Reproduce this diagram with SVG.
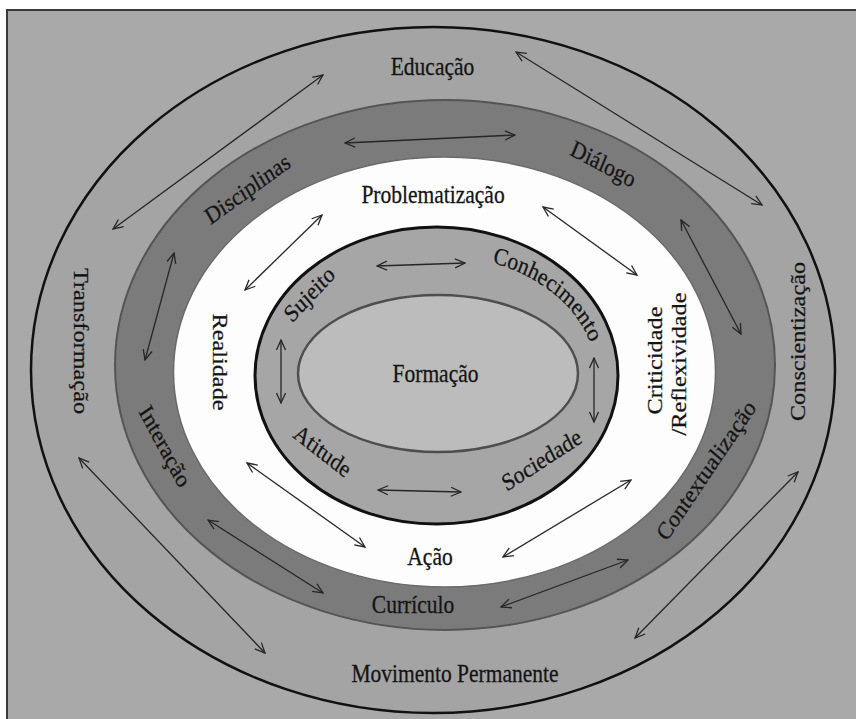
<svg xmlns="http://www.w3.org/2000/svg" width="856" height="719" viewBox="0 0 856 719">
  <style>
    text { font-family: 'Liberation Serif', 'Times New Roman', 'DejaVu Serif', serif; font-size: 21.5px; fill: #141414; stroke: #141414; stroke-width: 0.25; text-anchor: middle; }
    .arr { fill: none; stroke: #262626; stroke-width: 1.3; marker-start: url(#ah); marker-end: url(#ah); }
  </style>
  <defs>
    <marker id="ah" viewBox="0 0 12 12" refX="11" refY="6" markerWidth="12" markerHeight="12" markerUnits="userSpaceOnUse" orient="auto-start-reverse">
      <path d="M1,1.5 L11,6 L1,10.5" fill="none" stroke="#262626" stroke-width="1.3"/>
    </marker>
    <path id="pCon" d="M 463.8,270.4 A 160 106.2 0 0 1 596,375"/>
  </defs>

  <rect x="0" y="0" width="856" height="719" fill="#ffffff"/>
  <rect id="frame" x="7" y="10" width="860" height="720" fill="#a9a9a9" stroke="#3a3a3a" stroke-width="2"/>

  <g id="ring-outer">
    <ellipse cx="433" cy="370" rx="402" ry="343" fill="#a4a4a4" stroke="#111" stroke-width="2.5"/>
  </g>
  <g id="ring-dark">
    <ellipse cx="445" cy="365" rx="330" ry="265" fill="#7b7b7b" stroke="#555" stroke-width="2"/>
  </g>
  <g id="ring-white">
    <ellipse cx="444.5" cy="372" rx="271" ry="215" fill="#fdfdfd" stroke="#6a6a6a" stroke-width="1.5"/>
  </g>
  <g id="ring-inner">
    <ellipse cx="436.5" cy="375.5" rx="181.5" ry="148.5" fill="#a6a6a6" stroke="#111" stroke-width="3"/>
  </g>
  <g id="core">
    <ellipse cx="438" cy="373.5" rx="140" ry="78.5" fill="#bcbcbc" stroke="#4e4e4e" stroke-width="2.5"/>
    <text transform="translate(435.5,382) scale(1,1.13)">Formação</text>
  </g>

  <g id="labels-outer">
    <text transform="translate(432.5,75) scale(1,1.13)">Educação</text>
    <text transform="translate(455,682) scale(1,1.13)">Movimento Permanente</text>
    <text transform="translate(80,341) scale(1,1.13) rotate(90)" y="6">Transformação</text>
    <text transform="translate(798.5,341.5) scale(1,1.13) rotate(-90)" y="6">Conscientização</text>
  </g>
  <g id="labels-dark">
    <text transform="translate(248,190) scale(1,1.13) rotate(-32.7)" y="6">Disciplinas</text>
    <text transform="translate(603,165) scale(1,1.13) rotate(25.2)" y="6">Diálogo</text>
    <text transform="translate(164,447) scale(1,1.13) rotate(59)" y="6">Interação</text>
    <text transform="translate(707,471) scale(1,1.13) rotate(-52.7)" y="6">Contextualização</text>
    <text transform="translate(413,613) scale(1,1.13)">Currículo</text>
  </g>
  <g id="labels-white">
    <text transform="translate(433,203) scale(1,1.13)">Problematização</text>
    <text transform="translate(430,565) scale(1,1.13)">Ação</text>
    <text transform="translate(219,362) scale(1,1.13) rotate(90)" y="6">Realidade</text>
    <text transform="translate(655.5,360.5) scale(1,1.13) rotate(-90)" y="6">Criticidade</text>
    <text transform="translate(679.5,364) scale(1,1.13) rotate(-90)" y="6">/Reflexividade</text>
  </g>
  <g id="labels-inner">
    <text transform="translate(310,295) scale(1,1.13) rotate(-43.5)" y="6">Sujeito</text>
    <text transform="translate(0,-48.75) scale(1,1.13)"><textPath href="#pCon" startOffset="50%">Conhecimento</textPath></text>
    <text transform="translate(322,452) scale(1,1.13) rotate(34.7)" y="6">Atitude</text>
    <text transform="translate(542,461) scale(1,1.13) rotate(-29.9)" y="6">Sociedade</text>
  </g>

  <g id="connectors">
    <line class="arr" x1="113" y1="229" x2="323" y2="75"/>
    <line class="arr" x1="345" y1="143" x2="515" y2="135"/>
    <line class="arr" x1="516" y1="52" x2="762" y2="205"/>
    <line class="arr" x1="174" y1="253" x2="145" y2="360"/>
    <line class="arr" x1="322" y1="215" x2="245" y2="290"/>
    <line class="arr" x1="377" y1="266" x2="465" y2="263"/>
    <line class="arr" x1="543" y1="207" x2="637" y2="275"/>
    <line class="arr" x1="681" y1="220" x2="741" y2="334"/>
    <line class="arr" x1="281" y1="340" x2="281" y2="403"/>
    <line class="arr" x1="594" y1="358" x2="594" y2="422"/>
    <line class="arr" x1="378" y1="490" x2="461" y2="492"/>
    <line class="arr" x1="247" y1="463" x2="365" y2="547"/>
    <line class="arr" x1="503" y1="557" x2="631" y2="480"/>
    <line class="arr" x1="208" y1="520" x2="323" y2="593"/>
    <line class="arr" x1="501" y1="607" x2="628" y2="560"/>
    <line class="arr" x1="79" y1="458" x2="265" y2="653"/>
    <line class="arr" x1="635" y1="638" x2="798" y2="472"/>
  </g>
</svg>
